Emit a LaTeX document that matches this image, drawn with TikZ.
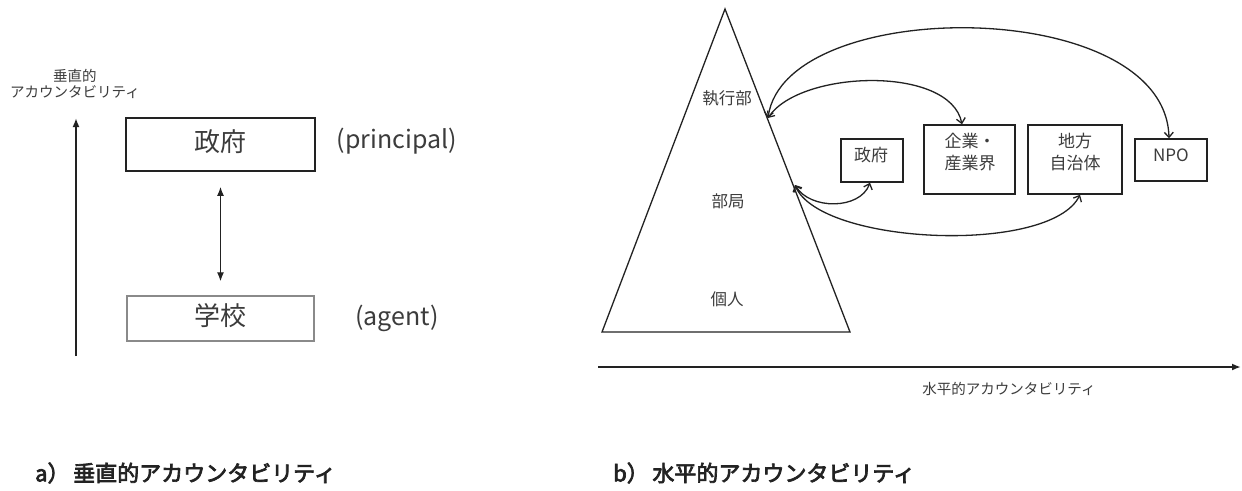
\documentclass[tikz,border=0pt]{standalone}
\usepackage{fontspec}
\setmainfont{Noto Sans CJK JP}
\newcommand{\strokeon}{\special{pdf:literal direct 2 Tr 0.7 w}}
\newcommand{\strokeoff}{\special{pdf:literal direct 0 Tr}}
\usetikzlibrary{arrows.meta}
\definecolor{ink}{HTML}{222222}
\definecolor{txt}{HTML}{3C3C3C}
\definecolor{lightbox}{HTML}{8A8A8A}
\tikzset{
  bigbox/.style={draw=ink, line width=1.8pt, minimum width=189pt, minimum height=53pt, inner sep=0pt},
  lowbox/.style={draw=lightbox, line width=1.4pt, minimum width=187pt, minimum height=45pt, inner sep=0pt},
  rbox/.style={draw=ink, line width=1.5pt, inner sep=0pt},
  bigtxt/.style={text=txt, font=\fontsize{26}{30}\selectfont, inner sep=0pt},
  roletxt/.style={text=txt, font=\fontsize{25}{29}\selectfont, inner sep=0pt},
  axtxt/.style={text=txt, font=\fontsize{14.5}{16}\selectfont, inner sep=0pt, align=center},
  tritxt/.style={text=txt, font=\fontsize{16.5}{19}\selectfont, inner sep=0pt},
  boxtxt/.style={text=txt, font=\fontsize{17}{22}\selectfont, inner sep=0pt, align=center},
  captxt/.style={text=ink, font=\fontsize{22}{26}\selectfont, inner sep=0pt, anchor=west},
  axis/.style={draw=ink, line width=2pt, -{Latex[length=9pt,width=7pt]}},
  link/.style={draw=ink, line width=1.3pt, {Straight Barb[length=5pt,width=9pt]}-{Straight Barb[length=5pt,width=9pt]}},
  vlink/.style={draw=ink, line width=1.3pt, {Latex[length=9pt,width=7pt]}-{Latex[length=9pt,width=7pt]}}
}
\begin{document}
\begin{tikzpicture}[x=1pt,y=-1pt]
\useasboundingbox[fill=white] (0,0) rectangle (1242,490);

% ---------- a) vertical ----------
\node[axtxt] (vlabel) at (75,84) {垂直的\\アカウンタビリティ};
\coordinate (vbot) at (76,356);
\coordinate (vtop) at (76,118);
\draw[axis] (vbot) -- (vtop);

\node[bigbox] (govL) at (220.5,144.5) {};
\node[bigtxt] (govLt) at (220.5,142) {政府};
\node[roletxt] (princ) at (397,141) {(principal)};

\node[lowbox] (school) at (220.5,318.5) {};
\node[bigtxt] (schoolt) at (220.5,316) {学校};
\node[roletxt] (agent) at (397,318) {(agent)};

\draw[vlink, shorten <=15pt, shorten >=14pt] (govL.south) -- (school.north);

\node[captxt] (capa) at (35,473) {\strokeon a）\,垂直的アカウンタビリティ\strokeoff};

% ---------- b) horizontal ----------
\coordinate (apex) at (725,9);
\coordinate (bl) at (602,332);
\coordinate (br) at (850,332);
\draw[draw=ink, line width=1.3pt, line join=miter] (apex) -- (br) -- (bl) -- cycle;

\node[tritxt] (exec) at (727,98) {執行部};
\node[tritxt] (dept) at (728,201) {部局};
\node[tritxt] (indiv) at (727,299) {個人};

\coordinate (e1) at (768,118);
\coordinate (e2) at (795,185);

\node[rbox, minimum width=62pt, minimum height=43pt] (govR) at (872,160.5) {};
\node[boxtxt] (govRt) at (871,155) {政府};
\node[rbox, minimum width=91pt, minimum height=69pt] (corp) at (969.5,159.5) {};
\node[boxtxt] (corpt) at (970,152) {企業・\\産業界};
\node[rbox, minimum width=94pt, minimum height=69pt] (local) at (1075,159.5) {};
\node[boxtxt] (localt) at (1075,152) {地方\\自治体};
\node[rbox, minimum width=72pt, minimum height=42pt] (npo) at (1171,160) {};
\node[boxtxt] (npot) at (1171,155) {NPO};

\draw[link] (e1) .. controls (800,70) and (950,65) .. (corp.north -| 962,0);
\draw[link] (e1) .. controls (785,-5) and (1165,-5) .. (npo.north -| 1169,0);
\draw[link] (e2) .. controls (810,210) and (860,210) .. (govR.south -| 870,0);
\draw[link] (e2) .. controls (820,245) and (1050,255) .. (local.south -| 1080,0);

\coordinate (hstart) at (598,367);
\coordinate (hend) at (1241,367);
\draw[axis] (hstart) -- (hend);
\node[axtxt] (hlabel) at (1009,389) {水平的アカウンタビリティ};

\node[captxt] (capb) at (613,473) {\strokeon b）\,水平的アカウンタビリティ\strokeoff};
\end{tikzpicture}
\end{document}
